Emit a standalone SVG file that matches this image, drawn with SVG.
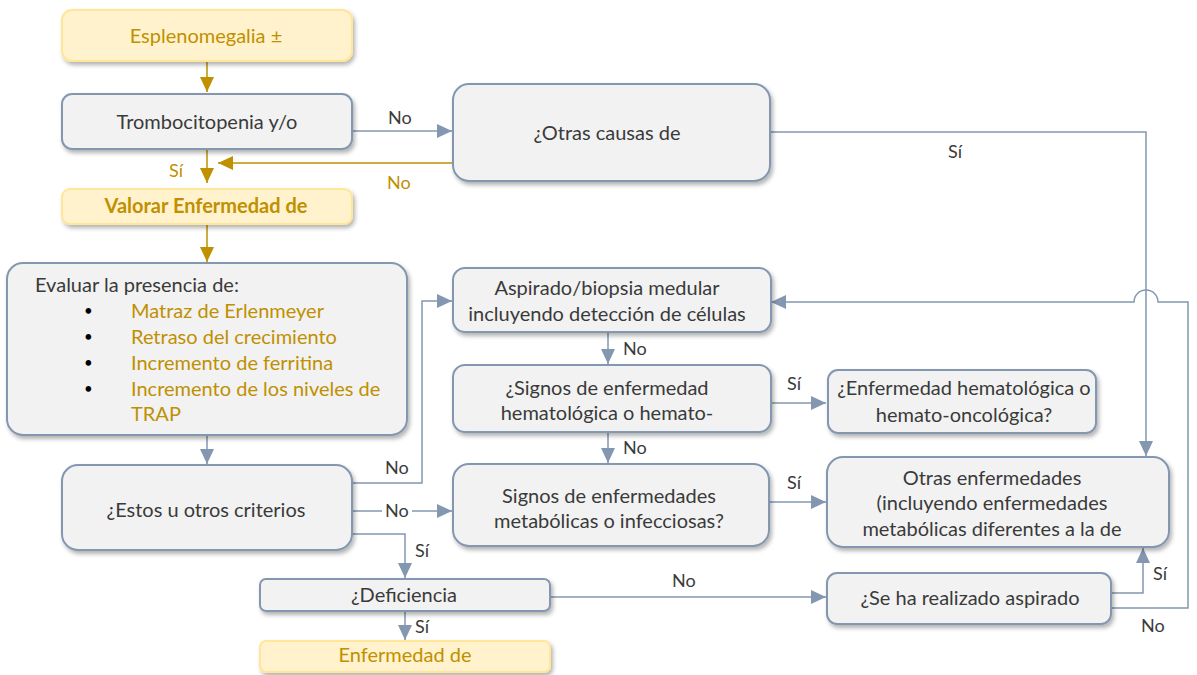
<svg xmlns="http://www.w3.org/2000/svg" width="1197" height="675" viewBox="0 0 1197 675">
<style>
text{font-family:Lato,"Liberation Sans",sans-serif;font-size:20px;fill:#3a3a3a}
.c{text-anchor:middle}
.g{fill:#bf9000}
.b{font-weight:bold}
.bul{font-size:15px;fill:#000}
.box{fill:#f2f2f2;stroke:#8497b0;stroke-width:2}
.ybox{fill:#fff2cc;stroke:#ffe699;stroke-width:2}
.ln{fill:none;stroke:#8497b0;stroke-width:1.5}
.gl{fill:none;stroke:#bf9000;stroke-width:1.5}
.lab{font-size:18px}
</style>
<defs>
<filter id="sh" x="-10%" y="-10%" width="125%" height="140%">
<feDropShadow dx="2" dy="3" stdDeviation="2" flood-color="#000" flood-opacity="0.3"/>
</filter>
<marker id="ab" markerUnits="userSpaceOnUse" markerWidth="16" markerHeight="16" viewBox="0 0 16 16" refX="15" refY="8" orient="auto">
<path d="M0,1 L15,8 L0,15 Z" fill="#8497b0"/>
</marker>
<marker id="ag" markerUnits="userSpaceOnUse" markerWidth="16" markerHeight="16" viewBox="0 0 16 16" refX="15" refY="8" orient="auto">
<path d="M0,1 L15,8 L0,15 Z" fill="#bf9000"/>
</marker>
</defs>

<g id="connectors">
<path class="gl" d="M207,61 V92" marker-end="url(#ag)"/>
<path class="ln" d="M352,131 H452" marker-end="url(#ab)"/>
<path class="gl" d="M453,163 H218" marker-end="url(#ag)"/>
<path class="gl" d="M207,149 V183" marker-end="url(#ag)"/>
<path class="gl" d="M207,224 V262" marker-end="url(#ag)"/>
<path class="ln" d="M770,132 H1146 V456" marker-end="url(#ab)"/>
<path class="ln" d="M207,435 V464" marker-end="url(#ab)"/>
<path class="ln" d="M352,483 H422 V301 H452" marker-end="url(#ab)"/>
<path class="ln" d="M352,511 H452" marker-end="url(#ab)"/>
<path class="ln" d="M352,534 H405 V578" marker-end="url(#ab)"/>
<path class="ln" d="M608,332 V364" marker-end="url(#ab)"/>
<path class="ln" d="M771,403 H826" marker-end="url(#ab)"/>
<path class="ln" d="M608,432 V463" marker-end="url(#ab)"/>
<path class="ln" d="M769,502 H826" marker-end="url(#ab)"/>
<path class="ln" d="M550,597 H826" marker-end="url(#ab)"/>
<path class="ln" d="M405,611 V640" marker-end="url(#ab)"/>
<path class="ln" d="M1111,593 H1143 V548" marker-end="url(#ab)"/>
<path class="ln" d="M1111,608 H1188 V302 H1158 A12,12 0 0 0 1134,302 H771" marker-end="url(#ab)"/>
<rect x="382" y="500" width="30" height="20" fill="#fff"/>
<text class="lab" x="388" y="124">No</text>
<text class="lab g" x="169" y="177">Sí</text>
<text class="lab g" x="387" y="189">No</text>
<text class="lab" x="948" y="158">Sí</text>
<text class="lab" x="385" y="474">No</text>
<text class="lab" x="385" y="517">No</text>
<text class="lab" x="415" y="557">Sí</text>
<text class="lab" x="623" y="355">No</text>
<text class="lab" x="787" y="390">Sí</text>
<text class="lab" x="623" y="454">No</text>
<text class="lab" x="787" y="489">Sí</text>
<text class="lab" x="672" y="587">No</text>
<text class="lab" x="415" y="633">Sí</text>
<text class="lab" x="1153" y="580">Sí</text>
<text class="lab" x="1141" y="632">No</text>
</g>

<g id="n-esplenomegalia">
<rect class="ybox" x="62" y="10" width="290" height="51" rx="10" filter="url(#sh)"/>
<text class="c g" x="206" y="43">Esplenomegalia ±</text>
</g>
<g id="n-trombocitopenia">
<rect class="box" x="62" y="94" width="290" height="55" rx="10" filter="url(#sh)"/>
<text class="c" x="207" y="129">Trombocitopenia y/o</text>
</g>
<g id="n-otras-causas">
<rect class="box" x="453" y="84" width="317" height="97" rx="16" filter="url(#sh)"/>
<text class="c" x="607" y="140">¿Otras causas de</text>
</g>
<g id="n-valorar">
<rect class="ybox" x="62" y="189" width="290" height="35" rx="8" filter="url(#sh)"/>
<text class="c g b" x="206" y="213">Valorar Enfermedad de</text>
</g>
<g id="n-evaluar">
<rect class="box" x="7" y="263" width="400" height="172" rx="16" filter="url(#sh)"/>
<text x="35" y="292">Evaluar la presencia de:</text>
<text class="bul" x="84" y="316">•</text>
<text class="bul" x="84" y="342">•</text>
<text class="bul" x="84" y="368">•</text>
<text class="bul" x="84" y="394">•</text>
<text class="g" x="131" y="318">Matraz de Erlenmeyer</text>
<text class="g" x="131" y="344">Retraso del crecimiento</text>
<text class="g" x="131" y="370">Incremento de ferritina</text>
<text class="g" x="131" y="396">Incremento de los niveles de</text>
<text class="g" x="131" y="421">TRAP</text>
</g>
<g id="n-aspirado">
<rect class="box" x="453" y="268" width="318" height="64" rx="12" filter="url(#sh)"/>
<text class="c" x="607" y="295">Aspirado/biopsia medular</text>
<text class="c" x="607" y="321">incluyendo detección de células</text>
</g>
<g id="n-signos-hemato">
<rect class="box" x="453" y="365" width="318" height="67" rx="12" filter="url(#sh)"/>
<text class="c" x="607" y="395">¿Signos de enfermedad</text>
<text class="c" x="607" y="420">hematológica o hemato-</text>
</g>
<g id="n-enf-hemato">
<rect class="box" x="828" y="370" width="268" height="63" rx="10" filter="url(#sh)"/>
<text class="c" x="964" y="395">¿Enfermedad hematológica o</text>
<text class="c" x="964" y="422">hemato-oncológica?</text>
</g>
<g id="n-estos">
<rect class="box" x="62" y="465" width="290" height="85" rx="16" filter="url(#sh)"/>
<text class="c" x="206" y="517">¿Estos u otros criterios</text>
</g>
<g id="n-signos-metab">
<rect class="box" x="453" y="464" width="316" height="82" rx="16" filter="url(#sh)"/>
<text class="c" x="609" y="503">Signos de enfermedades</text>
<text class="c" x="609" y="528">metabólicas o infecciosas?</text>
</g>
<g id="n-otras-enf">
<rect class="box" x="827" y="457" width="342" height="90" rx="16" filter="url(#sh)"/>
<text class="c" x="992" y="485">Otras enfermedades</text>
<text class="c" x="992" y="510">(incluyendo enfermedades</text>
<text class="c" x="992" y="536">metabólicas diferentes a la de</text>
</g>
<g id="n-deficiencia">
<rect class="box" x="260" y="579" width="290" height="32" rx="6" filter="url(#sh)"/>
<text class="c" x="404" y="602">¿Deficiencia</text>
</g>
<g id="n-se-ha-realizado">
<rect class="box" x="827" y="573" width="284" height="51" rx="10" filter="url(#sh)"/>
<text class="c" x="970" y="605">¿Se ha realizado aspirado</text>
</g>
<g id="n-enfermedad-de">
<rect class="ybox" x="260" y="641" width="290" height="31" rx="6" filter="url(#sh)"/>
<text class="c g" x="405" y="662">Enfermedad de</text>
</g>
</svg>
